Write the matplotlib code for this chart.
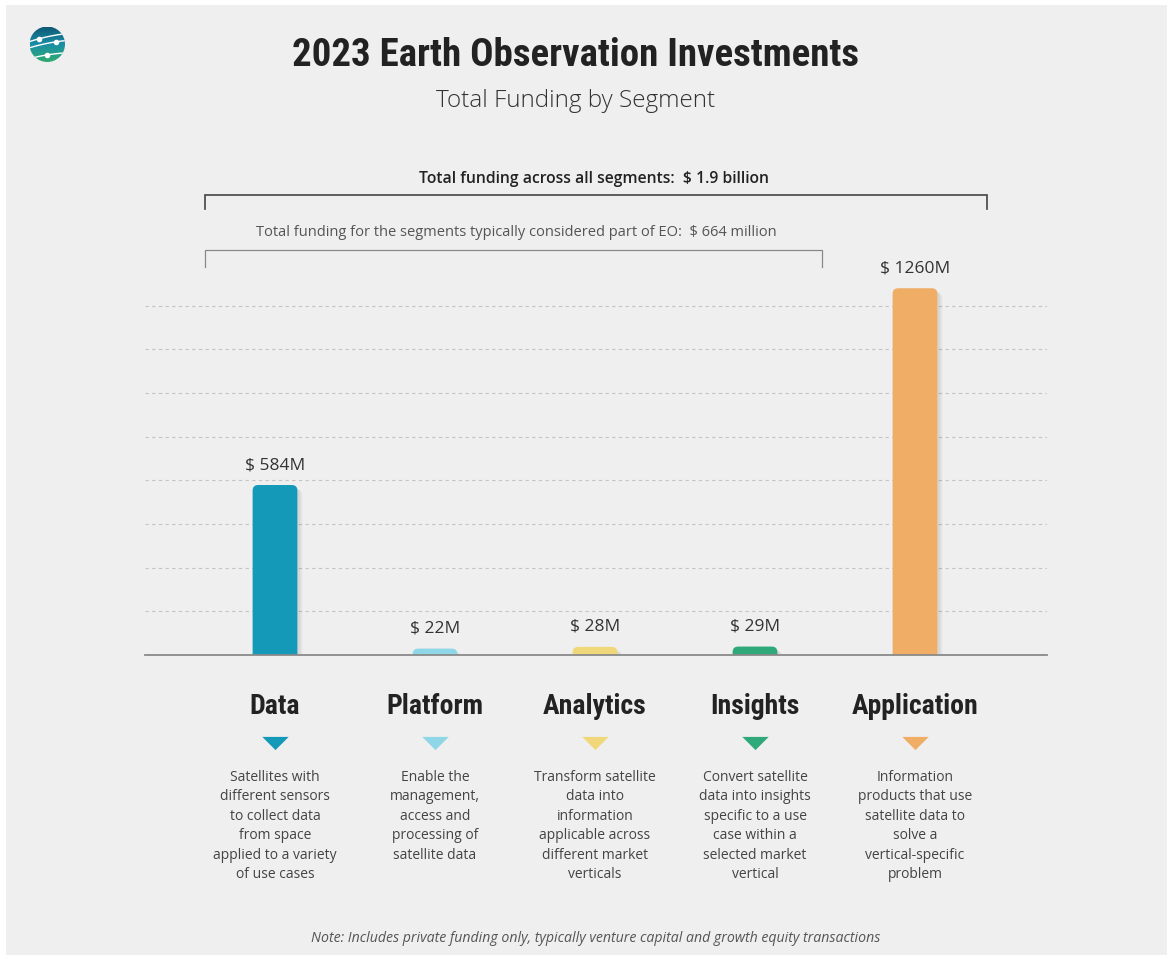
import matplotlib
matplotlib.use('Agg')
import matplotlib.pyplot as plt
import numpy as np
from matplotlib.patches import FancyBboxPatch, Rectangle, Circle
from matplotlib import transforms

# data
segments = ['Data', 'Platform', 'Analytics', 'Insights', 'Application']
funding = [584, 22, 28, 29, 1260]
colors = ['#1499b9', '#8fd6e6', '#f0d87a', '#2fa87a', '#f0ad66']
descriptions = [
    'Satellites with\ndifferent sensors\nto collect data\nfrom space\napplied to a variety\nof use cases',
    'Enable the\nmanagement,\naccess and\nprocessing of\nsatellite data',
    'Transform satellite\ndata into\ninformation\napplicable across\ndifferent market\nverticals',
    'Convert satellite\ndata into insights\nspecific to a use\ncase within a\nselected market\nvertical',
    'Information\nproducts that use\nsatellite data to\nsolve a\nvertical-specific\nproblem',
]
grid_values = [150, 300, 450, 600, 750, 900, 1050, 1200]

title = '2023 Earth Observation Investments'
subtitle = 'Total Funding by Segment'
total_all = 'Total funding across all segments:  $ 1.9 billion'
total_eo = 'Total funding for the segments typically considered part of EO:  $ 664 million'
note = 'Note: Includes private funding only, typically venture capital and growth equity transactions'

body_font = ['Open Sans', 'DejaVu Sans']
head_font = ['Liberation Sans Narrow', 'DejaVu Sans Condensed', 'Roboto Condensed', 'DejaVu Sans']

W, H = 1173, 959
fig = plt.figure(figsize=(W / 100, H / 100), dpi=100, facecolor='white')
bg = Rectangle((6 / W, 4 / H), 1161 / W, 950 / H, transform=fig.transFigure,
               facecolor='#efefef', edgecolor='none', zorder=-10)
fig.patches.append(bg)


def fx(px):
    return px / W


def fy(py):
    return 1 - py / H


ax = fig.add_axes([fx(145), fy(655), fx(1047) - fx(145), fy(276.6) - fy(655)])
ax.set_facecolor('none')
x = np.arange(len(segments))
ax.set_xlim(-0.8125, 4.825)
ax.set_ylim(0, 1300)
for s in ax.spines.values():
    s.set_visible(False)
ax.set_yticks(grid_values)
ax.set_xticks([])
ax.tick_params(left=False, labelleft=False)
ax.yaxis.grid(True, linestyle=(0, (3, 3)), color='#c4c4c4', linewidth=0.8)
ax.set_axisbelow(True)
ax.axhline(0, color='#8a8a8a', linewidth=1.3, zorder=5, clip_on=False)

# pixel scale of data units for rounded corners
px_x = (ax.transData.transform((1, 0)) - ax.transData.transform((0, 0)))[0]
px_y = (ax.transData.transform((0, 1)) - ax.transData.transform((0, 0)))[1]
aspect = (1 / px_y) / (1 / px_x)

bw = 0.28
for xi, v, c in zip(x, funding, colors):
    # soft shadow
    for k, a in [(5, 0.04), (3, 0.06)]:
        sh = FancyBboxPatch((xi - bw / 2 + k / px_x, -60), bw, v + 60 - k / px_y,
                            boxstyle='round,pad=0,rounding_size=0.035',
                            mutation_aspect=aspect, facecolor='#000000', alpha=a,
                            edgecolor='none', zorder=2)
        ax.add_patch(sh)
    p = FancyBboxPatch((xi - bw / 2, -60), bw, v + 60,
                       boxstyle='round,pad=0,rounding_size=0.035',
                       mutation_aspect=aspect, facecolor=c, edgecolor='none', zorder=3)
    ax.add_patch(p)
    ax.text(xi, v + 20 / px_y, '$ %dM' % v, ha='center', va='center', fontsize=12.5,
            color='#333333', family=body_font)

# category labels, triangles and descriptions under each bar
blend = transforms.blended_transform_factory(ax.transData, fig.transFigure)
for xi, name, c, d in zip(x, segments, colors, descriptions):
    ax.text(xi, fy(706), name, transform=blend, ha='center', va='center', fontsize=20,
            fontweight='bold', color='#222222', family=head_font)
    ax.plot([xi], [fy(743)], transform=blend, marker=[(-1, 0.5), (1, 0.5), (0, -0.5)],
            markersize=19, color=c, markeredgewidth=0, clip_on=False)
    ax.text(xi, fy(770), d, transform=blend, ha='center', va='top', fontsize=10,
            color='#444444', family=body_font, linespacing=1.4)

# brackets
def bracket(x0, x1, ytop, ybot, color, lw):
    ax.plot([x0, x0, x1, x1], [fy(ybot), fy(ytop), fy(ytop), fy(ybot)], transform=blend,
            color=color, linewidth=lw, clip_on=False, solid_joinstyle='miter')


bracket(-0.4375, 4.45, 195, 209, '#444444', 1.2)
bracket(-0.4375, 3.42, 250, 267, '#888888', 0.9)
fig.text(fx(594), fy(179), total_all, ha='center', va='center', fontsize=11.3,
         fontweight='semibold', color='#222222', family=body_font)
fig.text(fx(516), fy(233), total_eo, ha='center', va='center', fontsize=10.5,
         color='#555555', family=body_font)

# titles
fig.text(fx(576), fy(55), title, ha='center', va='center', fontsize=28, fontweight='bold',
         color='#222222', family=head_font)
fig.text(fx(576), fy(101), subtitle, ha='center', va='center', fontsize=17.5,
         fontweight='light', color='#333333', family=body_font)
fig.text(fx(596), fy(939), note, ha='center', va='center', fontsize=10.2, style='italic',
         color='#555555', family=body_font)

# logo
lax = fig.add_axes([fx(29.5), fy(62), fx(65) - fx(29.5), fy(26.5) - fy(62)])
lax.set_xlim(-1, 1)
lax.set_ylim(-1, 1)
lax.axis('off')
grad = np.linspace(0, 1, 64).reshape(-1, 1)
im = lax.imshow(grad, extent=(-1, 1, -1, 1), origin='upper', aspect='auto',
                cmap=matplotlib.colors.LinearSegmentedColormap.from_list(
                    'logo', ['#0e5773', '#1a8ea6', '#2faa72']))
circ = Circle((0, 0), 1, transform=lax.transData)
im.set_clip_path(circ)
t = np.linspace(-1, 1, 50)
for off, slope in [(0.42, 0.22), (0.05, 0.2), (-0.6, 0.16)]:
    lax.plot(t, off + slope * t - 0.05 * t ** 2, color='white', linewidth=1.0, clip_path=circ)
lax.plot([-0.45, 0.49, 0.0], [0.31, 0.13, -0.6], 'o', color='white', markersize=3)

fig.savefig('out.png', dpi=100, facecolor='white')
